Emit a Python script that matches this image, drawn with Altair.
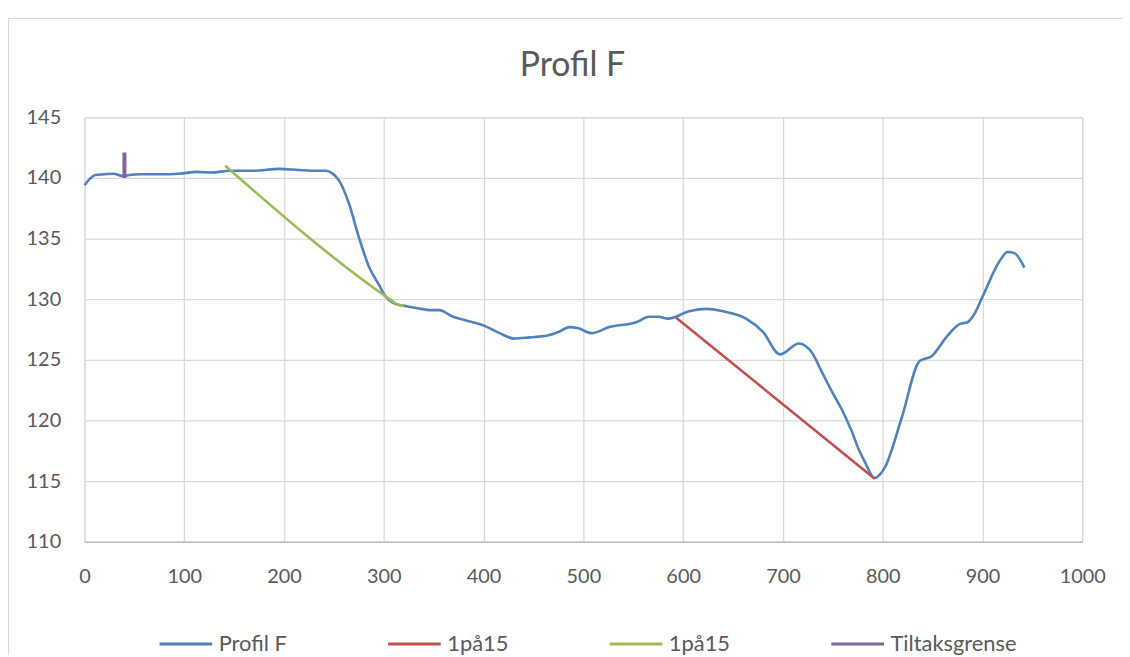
import altair as alt
import pandas as pd

# ---- data ----
profile_x = [0, 5, 11, 20, 29, 39, 45, 56, 75, 95, 112, 128, 145, 170, 195, 215, 228, 242, 248,
             255, 265, 275, 285, 295, 302, 312, 321, 334, 348, 356, 362, 367, 380, 401, 416, 431,
             446, 464, 475, 486, 495, 508, 526, 553, 566, 575, 585, 606, 623, 640, 663, 680, 697,
             716, 729, 739, 749, 759, 769, 776, 782, 792, 802, 819, 837, 849, 865, 877, 885,
             892, 900, 918, 925, 932, 942]
profile_y = [139.4, 139.9, 140.25, 140.3, 140.35, 140.15, 140.25, 140.3, 140.3, 140.35, 140.5,
             140.45, 140.6, 140.6, 140.75, 140.65, 140.6, 140.6, 140.4, 139.8, 137.9, 135.1, 132.7,
             131.2, 130.2, 129.6, 129.45, 129.25, 129.1, 129.1, 128.9, 128.65, 128.3, 127.8, 127.2,
             126.75, 126.85, 127.0, 127.3, 127.7, 127.6, 127.2, 127.7, 128.1, 128.55, 128.55, 128.4,
             129.0, 129.2, 129.0, 128.4, 127.3, 125.45, 126.35, 125.6, 124.0, 122.4, 120.9, 119.1,
             117.6, 116.6, 115.25, 116.1, 120.2, 124.9, 125.3, 127.0, 127.95, 128.1, 128.8,
             130.2, 133.25, 133.9, 133.8, 132.6]
red_x = [593, 792]
red_y = [128.47, 115.2]
green_x = [141, 305, 313, 320]
green_y = [141.0, 130.05, 129.6, 129.45]
purple_x = [40, 40]
purple_y = [140.0, 142.1]

series_names = ["Profil F", "1på15", "1på15 ", "Tiltaksgrense"]
series_colors = ["#4F81BD", "#C0504D", "#9BBB59", "#8064A2"]
series_widths = [2.6, 2.6, 2.6, 4.0]
x_ticks = list(range(0, 1001, 100))
y_ticks = list(range(110, 146, 5))

rows = []
for name, sw, xs, ys in [("Profil F", series_widths[0], profile_x, profile_y),
                         ("1på15", series_widths[1], red_x, red_y),
                         ("1på15 ", series_widths[2], green_x, green_y),
                         ("Tiltaksgrense", series_widths[3], purple_x, purple_y)]:
    for i, (a, b) in enumerate(zip(xs, ys)):
        rows.append({"series": name, "x": a, "y": b, "order": i, "sw": sw})
df = pd.DataFrame(rows)

FONT = "Lato"
GRAY = "#595959"

lines = alt.Chart(df).mark_line(interpolate="monotone", strokeCap="butt").encode(
    x=alt.X("x:Q", scale=alt.Scale(domain=[0, 1000], nice=False),
            axis=alt.Axis(values=x_ticks, format="d", title=None, grid=True,
                          gridColor="#d9d9d9", gridWidth=1.3, domainColor="#bfbfbf",
                          domainWidth=1.5, ticks=False, tickSize=0, labelPadding=25,
                          labelFlush=False, labelFontSize=20, labelColor=GRAY,
                          labelFont=FONT)),
    y=alt.Y("y:Q", scale=alt.Scale(domain=[110, 145], nice=False, zero=False),
            axis=alt.Axis(values=y_ticks, title=None, grid=True, gridColor="#d9d9d9",
                          gridWidth=1.3, domain=False, ticks=False, tickSize=0,
                          labelPadding=24, labelFlush=False, labelFontSize=20,
                          labelColor=GRAY, labelFont=FONT)),
    color=alt.Color("series:N",
                    scale=alt.Scale(domain=series_names, range=series_colors),
                    legend=alt.Legend(title=None, orient="none", direction="horizontal",
                                      legendX=74, legendY=502, symbolType="stroke",
                                      symbolSize=2809, symbolStrokeWidth=3,
                                      symbolOpacity=1,
                                      labelFontSize=22, labelColor=GRAY, labelFont=FONT,
                                      labelOffset=5, columnPadding=95, padding=0,
                                      labelExpr="trim(datum.label)")),
    strokeWidth=alt.StrokeWidth("sw:Q", scale=None, legend=None),
    order="order:Q",
    detail="series:N",
)

frame_df = pd.DataFrame({"k": [0]})
frame = alt.Chart(frame_df).mark_rect(fill=None, stroke="#d9d9d9", strokeWidth=1).encode(
    x=alt.value(-76.5), x2=alt.value(1400), y=alt.value(-99.5), y2=alt.value(700)
)

chart = alt.layer(frame, lines).properties(
    width=1004, height=427,
    padding={"left": 77, "top": 108, "right": 40, "bottom": 112},
    autosize=alt.AutoSizeParams(type="none"),
    title=alt.TitleParams("Profil F", fontSize=34, font=FONT, color=GRAY, fontWeight="normal",
                          anchor="middle", frame="group", dx=-11, offset=-92,
                          baseline="alphabetic"),
).configure_view(stroke=None).configure(background="white")

chart.save("out.html", embed_options={"renderer": "svg", "actions": False})
